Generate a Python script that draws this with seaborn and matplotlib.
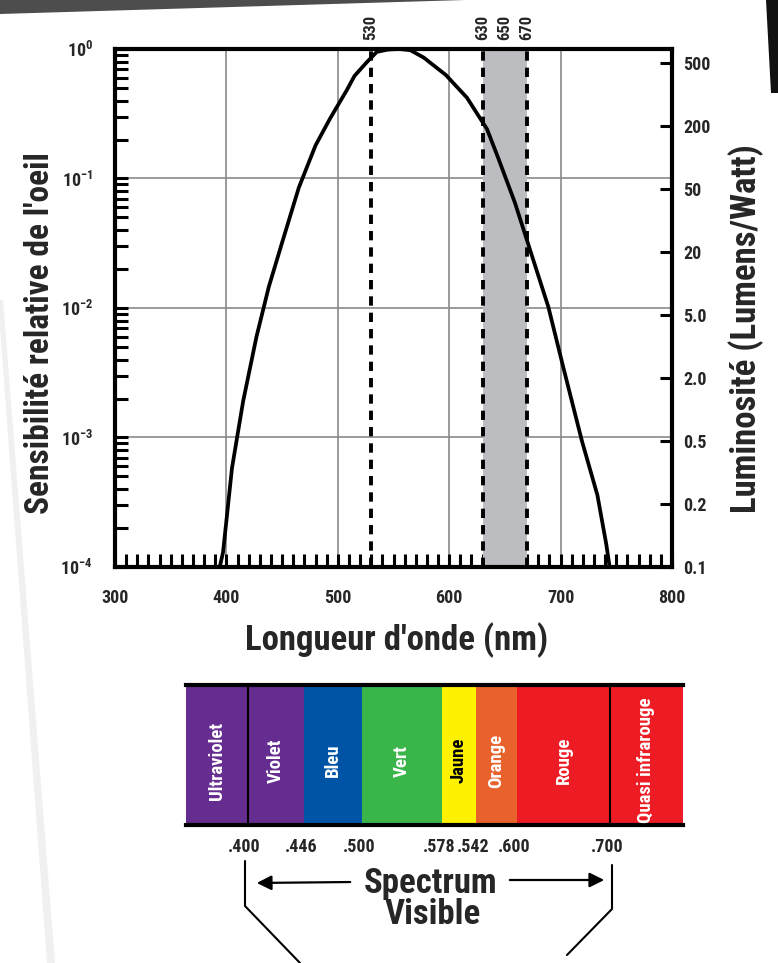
import numpy as np
import pandas as pd
import seaborn as sns
import matplotlib
matplotlib.use('Agg')
import matplotlib.pyplot as plt
from matplotlib import font_manager as fm
from matplotlib.ticker import LogLocator, MultipleLocator, FixedLocator, NullFormatter
from matplotlib.transforms import blended_transform_factory
from matplotlib.lines import Line2D
from matplotlib.patches import Polygon, FancyArrowPatch

# courbe de sensibilite relative de l'oeil
wavelength = [394, 397, 405, 415, 427, 438, 450, 465, 480, 493, 508, 515, 526, 535,
              545, 555, 565, 577, 597, 616, 634, 644, 659, 671, 689, 702, 719, 733, 741, 744]
sensitivity = [1.0e-4, 1.3e-4, 5.8e-4, 1.9e-3, 6.0e-3, 1.45e-2, 3.2e-2, 8.5e-2, 0.18, 0.29,
               0.48, 0.62, 0.79, 0.95, 0.99, 1.0, 0.98, 0.86, 0.63, 0.42, 0.24, 0.144,
               0.065, 0.031, 0.0102, 0.0036, 0.00095, 0.00036, 0.00015, 0.0001]

x_ticks = [300, 400, 500, 600, 700, 800]
y_ticks = [1e-4, 1e-3, 1e-2, 1e-1, 1e0]
y_exponents = ['-4', '-3', '-2', '-1', '0']
lum_labels = ['0.1', '0.2', '0.5', '2.0', '5.0', '20', '50', '200', '500']
peak_line = 530
band_lo, band_hi = 630, 670
top_marks = [530, 630, 650, 670]

# bande du spectre (largeurs schematiques, pas a l'echelle)
band_names = ['Ultraviolet', 'Violet', 'Bleu', 'Vert', 'Jaune', 'Orange', 'Rouge', 'Quasi infrarouge']
band_edges = [0, 0.125, 0.239, 0.356, 0.516, 0.584, 0.667, 0.855, 1.0]
band_colors = ['#662d91', '#662d91', '#0054a6', '#39b54a', '#fff200', '#e8632b', '#ed1c24', '#ed1c24']
edge_labels = ['.400', '.446', '.500', '.578', '.542', '.600', '.700']

sns.set_theme(style='ticks')

# police condensee si disponible
avail = {f.name for f in fm.fontManager.ttflist}
font = 'DejaVu Sans'
for cand in ['Roboto Condensed', 'Liberation Sans Narrow', 'Archivo Narrow']:
    if cand in avail:
        font = cand
        break
plt.rcParams['font.family'] = [font, 'DejaVu Sans']
plt.rcParams['font.weight'] = 'bold'
plt.rcParams['mathtext.fontset'] = 'custom'
plt.rcParams['mathtext.rm'] = font + ':bold'
plt.rcParams['mathtext.bf'] = font + ':bold'

W, H = 778, 963
fig = plt.figure(figsize=(W / 100, H / 100), dpi=100)
fig.patch.set_facecolor('white')


def fx(x):
    return x / W


def fy(y):
    return 1 - y / H


# decor photo
fig.add_artist(Polygon([(fx(0), fy(0)), (fx(465), fy(0)), (fx(0), fy(14))], closed=True,
                       transform=fig.transFigure, color='#4d4d4d', lw=0))
fig.add_artist(Polygon([(fx(766), fy(0)), (fx(778), fy(0)), (fx(778), fy(93)), (fx(771), fy(93))],
                       closed=True, transform=fig.transFigure, color='#111111', lw=0))
fig.add_artist(Polygon([(fx(-2), fy(300)), (fx(3), fy(300)), (fx(55), fy(963)), (fx(47), fy(963))],
                       closed=True, transform=fig.transFigure, color='#f0f0f0', lw=0))

ax = fig.add_axes([fx(115), fy(567), 557 / W, 518 / H])
ax.set_facecolor('none')
ax.axvspan(band_lo, band_hi, color='#bcbdc0', lw=0, zorder=1)
sns.lineplot(x=wavelength, y=sensitivity, ax=ax, color='black', lw=2.7, zorder=4)
for xv in [peak_line, band_lo, band_hi]:
    ax.axvline(xv, color='black', lw=2.8, ls=(0, (2.4, 1.8)), zorder=3)

ax.set_yscale('log')
ax.set_xlim(300, 800)
ax.set_ylim(1e-4, 1)
ax.set_xticks(x_ticks)
ax.set_xticklabels([str(v) for v in x_ticks])
ax.xaxis.set_minor_locator(MultipleLocator(10))
ax.set_yticks(y_ticks)
ax.set_yticklabels([r'$\mathbf{10^{%s}}$' % e for e in y_exponents])
ax.yaxis.set_minor_locator(LogLocator(base=10, subs=np.arange(2, 10)))
ax.yaxis.set_minor_formatter(NullFormatter())
ax.grid(True, which='major', color='#8a8a8a', lw=1.2, zorder=0)
ax.tick_params(which='both', direction='in', length=9.5, width=2.2, color='black',
               left=True, bottom=True, top=False, right=False, labelsize=13)
ax.tick_params(axis='y', which='major', pad=16)
ax.tick_params(axis='x', which='major', pad=16)
for s in ax.spines.values():
    s.set_linewidth(3.0)
    s.set_color('black')
    s.set_zorder(6)

ax.set_xlabel("Longueur d'onde (nm)", fontsize=25, fontweight='bold')
ax.xaxis.set_label_coords(0.505, -0.141)
ax.xaxis.label.set_va('center')
ax.set_ylabel("Sensibilité relative de l'oeil", fontsize=24, fontweight='bold')
ax.yaxis.set_label_coords(-0.135, 0.452)
ax.yaxis.label.set_va('center')

trans = blended_transform_factory(ax.transData, ax.transAxes)
for m in top_marks:
    ax.text(m, 1 + 9 / 518, str(m), transform=trans, rotation=90, ha='center', va='bottom',
            fontsize=12, fontweight='bold')

ax2 = ax.twinx()
ax2.set_ylim(0, 8 * 518 / 504)
ax2.yaxis.set_major_locator(FixedLocator(range(len(lum_labels))))
ax2.set_yticklabels(lum_labels)
ax2.tick_params(axis='y', direction='in', length=9, width=2.2, color='black', pad=8, labelsize=13)
ax2.grid(False)
for s in ax2.spines.values():
    s.set_visible(False)
ax2.set_ylabel('Luminosité (Lumens/Watt)', fontsize=25, fontweight='bold', rotation=90)
ax2.yaxis.set_label_coords(1.133, 0.461)
ax2.yaxis.label.set_va('center')

# bande du spectre visible
axb = fig.add_axes([fx(185.5), fy(825), 497 / W, 140 / H])
lefts = band_edges[:-1]
widths = np.diff(band_edges)
axb.bar(lefts, [1] * len(lefts), width=widths, align='edge', color=band_colors, lw=0)
axb.set_xlim(0, 1)
axb.set_ylim(0, 1)
axb.vlines([band_edges[1], band_edges[7]], 0, 1, color='black', lw=1.5)
for name, l, w in zip(band_names, lefts, widths):
    axb.text(l + w / 2, 0.46, name, rotation=90, ha='center', va='center', fontsize=13.5,
             fontweight='bold', color='black' if name == 'Jaune' else 'white')
for e, lab in zip(band_edges[1:-1], edge_labels):
    axb.text(e - 0.006, -0.16, lab, ha='center', va='center', fontsize=13, fontweight='bold')
axb.set_xticks([])
axb.set_yticks([])
for k in ['left', 'right']:
    axb.spines[k].set_visible(False)
for k in ['top', 'bottom']:
    axb.spines[k].set_linewidth(3.0)
    axb.spines[k].set_color('black')

fig.text(fx(431), fy(883), 'Spectrum', ha='center', va='center', fontsize=25, fontweight='bold')
fig.text(fx(433), fy(914), 'Visible', ha='center', va='center', fontsize=25, fontweight='bold')
fig.add_artist(FancyArrowPatch((fx(353), fy(882)), (fx(254), fy(883)), transform=fig.transFigure,
                               arrowstyle='-|>', mutation_scale=22, lw=1.6, color='black'))
fig.add_artist(FancyArrowPatch((fx(507), fy(880)), (fx(607), fy(880)), transform=fig.transFigure,
                               arrowstyle='-|>', mutation_scale=22, lw=1.6, color='black'))
fig.add_artist(Line2D([fx(245), fx(245), fx(300)], [fy(861), fy(906), fy(963)],
                      transform=fig.transFigure, color='black', lw=1.5))
fig.add_artist(Line2D([fx(612), fx(612), fx(567)], [fy(865), fy(909), fy(955)],
                      transform=fig.transFigure, color='black', lw=1.5))

fig.savefig('out.png', dpi=100)
